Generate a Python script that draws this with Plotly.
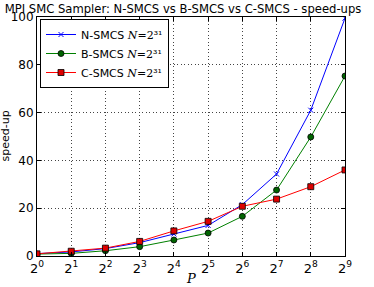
import plotly.graph_objects as go

P = [1, 2, 4, 8, 16, 32, 64, 128, 256, 512]
n_smcs = [1.0, 1.7, 3.1, 5.6, 9.2, 12.8, 21.5, 34.3, 61.0, 99.5]
b_smcs = [0.8, 1.1, 2.2, 3.9, 6.7, 9.6, 16.6, 27.6, 49.8, 75.3]
c_smcs = [0.9, 2.0, 3.3, 6.1, 10.5, 14.5, 20.8, 23.8, 29.0, 36.0]
tick_vals = P
tick_text = ["2<sup>%d</sup>" % k for k in range(10)]
y_ticks = [0, 20, 40, 60, 80, 100]

W, H = 374, 287
L, R, T, B = 37, 29, 17, 31

math_n = "<span style='font-family:DejaVu Serif'><i>N</i>=2³¹</span>"

fig = go.Figure()
fig.add_trace(go.Scatter(x=P, y=n_smcs, mode="lines+markers",
    name="N-SMCS " + math_n,
    line=dict(color="#0000ff", width=1),
    marker=dict(symbol="x-thin", size=5, color="#0000ff", line=dict(color="#0000ff", width=1))))
fig.add_trace(go.Scatter(x=P, y=b_smcs, mode="lines+markers",
    name="B-SMCS " + math_n,
    line=dict(color="#008000", width=1),
    marker=dict(symbol="circle", size=6, color="#006400", line=dict(color="black", width=0.8))))
fig.add_trace(go.Scatter(x=P, y=c_smcs, mode="lines+markers",
    name="C-SMCS " + math_n,
    line=dict(color="#ff0000", width=1),
    marker=dict(symbol="square", size=6, color="#dd0000", line=dict(color="black", width=0.8))))

fig.update_layout(
    width=W, height=H,
    margin=dict(l=L, r=R, t=T, b=B, autoexpand=False),
    paper_bgcolor="white", plot_bgcolor="white",
    font=dict(family="DejaVu Sans", size=11, color="black"),
    title=dict(text="MPI SMC Sampler: N-SMCS vs B-SMCS vs C-SMCS - speed-ups",
               x=183 / W, xanchor="center", y=1 - 8.5 / H, yanchor="middle",
               font=dict(size=11.6)),
    legend=dict(x=3 / (W - L - R), y=1 - 2 / (H - T - B), xanchor="left", yanchor="top",
                bordercolor="black", borderwidth=1, bgcolor="white",
                font=dict(size=11), itemwidth=30, tracegroupgap=0),
    showlegend=True,
    annotations=[
        dict(text="<i>P</i>", xref="paper", yref="paper",
             x=0.5, y=-(278 - (H - B)) / (H - T - B), xanchor="center", yanchor="middle",
             showarrow=False, font=dict(size=13, family="DejaVu Serif")),
        dict(text="speed-up", xref="paper", yref="paper", textangle=-90,
             x=-(L - 5) / (W - L - R), y=0.5, xanchor="center", yanchor="middle",
             showarrow=False, font=dict(size=11)),
    ],
)
fig.update_xaxes(type="log", range=[0, 2.70927], tickvals=tick_vals, ticktext=tick_text,
    automargin=False,
    showgrid=True, gridcolor="#444444", griddash="1px,2.5px", gridwidth=1,
    showline=True, linecolor="black", linewidth=1, mirror="ticks",
    ticks="inside", ticklen=4, tickcolor="black",
    tickfont=dict(size=13))
fig.update_yaxes(range=[0, 100], tickvals=y_ticks,
    automargin=False,
    showgrid=True, gridcolor="#444444", griddash="1px,2.5px", gridwidth=1,
    showline=True, linecolor="black", linewidth=1, mirror="ticks",
    ticks="inside", ticklen=4, tickcolor="black",
    tickfont=dict(size=12), zeroline=False)

fig.write_html("out.html", config={"displayModeBar": False},
               post_script="document.body.style.margin='0px';")
